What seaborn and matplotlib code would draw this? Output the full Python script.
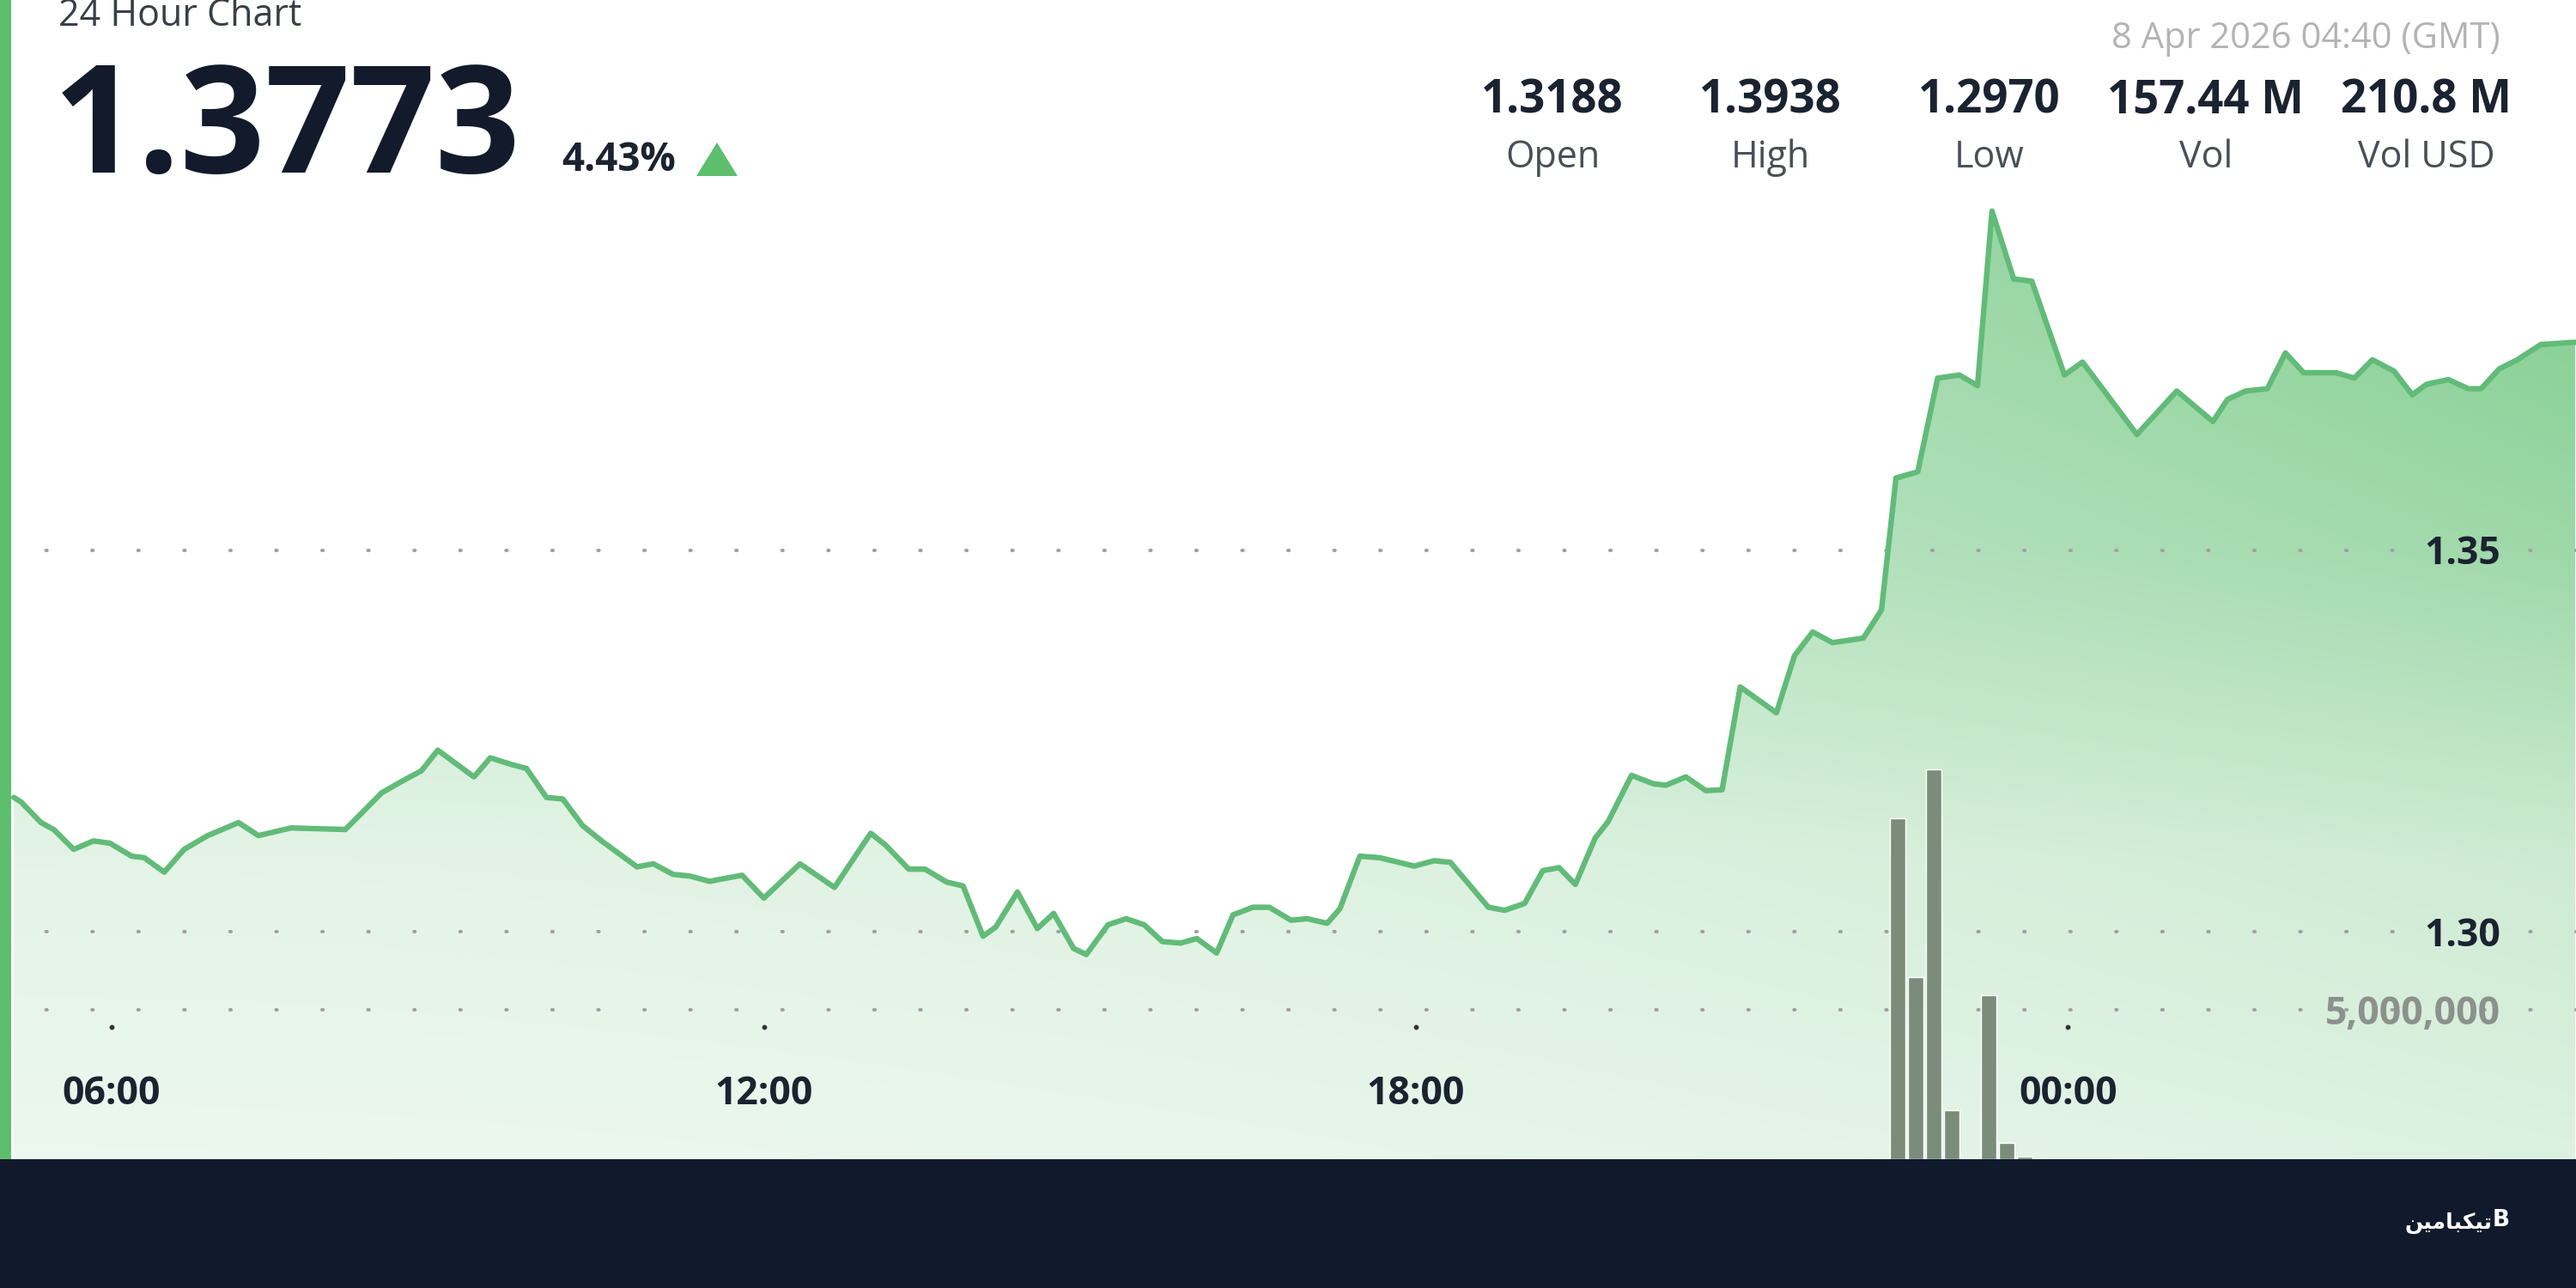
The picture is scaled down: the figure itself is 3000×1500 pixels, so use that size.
import numpy as np
import pandas as pd
import matplotlib
matplotlib.use("Agg")
import matplotlib.pyplot as plt
import matplotlib.dates as mdates
import matplotlib.transforms as mtransforms
from matplotlib.patches import Rectangle, Polygon
import seaborn as sns

# price line, 7 Apr -> 8 Apr 2026 (GMT)
priceTimes = [
    "05:06", "05:10", "05:21", "05:28", "05:39", "05:50", "05:59", "06:11", "06:18", "06:29",
    "06:40", "06:53", "07:10", "07:21", "07:39", "08:09", "08:29", "08:40", "08:51", "09:00",
    "09:20", "09:29", "09:41", "09:49", "10:00", "10:09", "10:20", "10:31", "10:50", "10:59",
    "11:10", "11:19", "11:30", "11:48", "12:00", "12:20", "12:39", "12:53", "12:59", "13:07",
    "13:20", "13:29", "13:41", "13:50", "14:01", "14:08", "14:20", "14:31", "14:40", "14:51",
    "14:58", "15:10", "15:20", "15:30", "15:40", "15:50", "15:59", "16:10", "16:19", "16:30",
    "16:39", "16:51", "17:00", "17:11", "17:18", "17:29", "17:40", "17:59", "18:10", "18:19",
    "18:40", "18:49", "19:00", "19:10", "19:19", "19:28", "19:39", "19:46", "19:59", "20:11",
    "20:18", "20:29", "20:40", "20:49", "20:59", "21:19", "21:29", "21:39", "21:50", "22:07",
    "22:17", "22:25", "22:37", "22:48", "23:00", "23:10", "23:18", "23:30", "23:40", "23:58",
    "00:08", "00:38", "01:00", "01:20", "01:28", "01:38", "01:50", "02:00", "02:10", "02:28",
    "02:38", "02:48", "03:00", "03:10", "03:18", "03:30", "03:41", "03:48", "03:58", "04:08",
    "04:21", "04:40",
]
prices = [
    1.3176, 1.3170, 1.3143, 1.3134, 1.3108, 1.3119, 1.3116, 1.3099, 1.3097, 1.3078,
    1.3108, 1.3126, 1.3143, 1.3126, 1.3136, 1.3134, 1.3182, 1.3197, 1.3211, 1.3238,
    1.3203, 1.3228, 1.3219, 1.3214, 1.3176, 1.3174, 1.3139, 1.3118, 1.3085, 1.3089,
    1.3075, 1.3073, 1.3066, 1.3074, 1.3044, 1.3089, 1.3058, 1.3108, 1.3129, 1.3114,
    1.3082, 1.3082, 1.3065, 1.3060, 1.2994, 1.3006, 1.3052, 1.3004, 1.3024, 1.2978,
    1.2970, 1.3009, 1.3017, 1.3009, 1.2987, 1.2985, 1.2991, 1.2972, 1.3022, 1.3032,
    1.3032, 1.3015, 1.3017, 1.3011, 1.3030, 1.3099, 1.3097, 1.3086, 1.3093, 1.3091,
    1.3032, 1.3028, 1.3037, 1.3080, 1.3084, 1.3062, 1.3123, 1.3144, 1.3205, 1.3194,
    1.3192, 1.3203, 1.3185, 1.3186, 1.3321, 1.3287, 1.3362, 1.3393, 1.3379, 1.3385,
    1.3422, 1.3595, 1.3603, 1.3726, 1.3730, 1.3716, 1.3945, 1.3856, 1.3853, 1.3730,
    1.3747, 1.3652, 1.3709, 1.3669, 1.3698, 1.3709, 1.3712, 1.3759, 1.3733, 1.3733,
    1.3726, 1.3750, 1.3735, 1.3704, 1.3718, 1.3724, 1.3712, 1.3712, 1.3738, 1.3750,
    1.3770, 1.3773,
]

# volume bars (10 minute buckets)
volumeTimes = ["22:26", "22:36", "22:46", "22:56", "23:16", "23:26", "23:36"]
volumes = [11.4e6, 6.1e6, 13.05e6, 1.65e6, 5.5e6, 0.55e6, 0.1e6]

# header texts
chartTitle = "24 Hour Chart"
lastPrice = "1.3773"
changePct = "4.43%"
updatedAt = "8 Apr 2026 04:40 (GMT)"
statValues = ["1.3188", "1.3938", "1.2970", "157.44 M", "210.8 M"]
statLabels = ["Open", "High", "Low", "Vol", "Vol USD"]

# axis labels
priceTicks = [1.35, 1.30]
volumeTicks = [5_000_000]
timeTicks = ["06:00", "12:00", "18:00", "00:00"]
timeTickDays = ["2026-04-07", "2026-04-07", "2026-04-07", "2026-04-08"]

logoText = "تیکبامین"

GREEN = "#5dbe6e"
LINE = "#62bb78"
NAVY = "#111a2c"
INK = "#1b2230"


def toStamps(hhmm, startDay="2026-04-07"):
    out = []
    day = pd.Timestamp(startDay)
    prev = None
    for s in hhmm:
        t = pd.Timestamp(f"{day.date()} {s}")
        if prev is not None and t < prev:
            day += pd.Timedelta(days=1)
            t += pd.Timedelta(days=1)
        out.append(t)
        prev = t
    return out


def shapePersian(word):
    # tiny contextual shaper for the logo letters (isolated, final, initial, medial)
    forms = {
        "ت": "\uFE95\uFE96\uFE97\uFE98",
        "ی": "\uFBFC\uFBFD\uFBFE\uFBFF",
        "ک": "\uFB8E\uFB8F\uFB90\uFB91",
        "ب": "\uFE8F\uFE90\uFE91\uFE92",
        "ا": "\uFE8D\uFE8E\uFE8D\uFE8E",
        "م": "\uFEE1\uFEE2\uFEE3\uFEE4",
        "ن": "\uFEE5\uFEE6\uFEE7\uFEE8",
    }
    noJoinAfter = {"ا"}
    out = []
    for i, ch in enumerate(word):
        joinPrev = i > 0 and word[i - 1] not in noJoinAfter
        joinNext = i < len(word) - 1 and ch not in noJoinAfter
        idx = 3 if (joinPrev and joinNext) else 2 if joinNext else 1 if joinPrev else 0
        out.append(forms[ch][idx])
    return "".join(reversed(out))


def drawChart():
    sns.set_theme(style="white")
    plt.rcParams["font.family"] = ["Open Sans", "DejaVu Sans"]

    stamps = toStamps(priceTimes)
    volStamps = toStamps(volumeTimes)
    df = pd.DataFrame({"time": stamps, "price": prices})

    fig = plt.figure(figsize=(30, 15), dpi=100)
    fig.patch.set_facecolor("white")
    ax = fig.add_axes([0, 0.1, 1, 0.9])
    ax.set_facecolor("white")

    xlo = pd.Timestamp("2026-04-07 04:58:20")
    xhi = pd.Timestamp("2026-04-08 04:40:24")
    ylo, yhi = 1.27016, 1.42218

    # gradient fill under the line
    poly = ax.fill_between(df["time"], df["price"], ylo, facecolor="none", edgecolor="none")
    ny, nx = 400, 400
    yy = np.linspace(0, 1350, ny)[:, None]  # pixel rows from top of plot
    xx = np.linspace(0, 1, nx)[None, :]
    v = np.interp(yy, [0, 250, 640, 1000, 1350], [0.82, 0.78, 0.60, 0.31, 0.21])
    h = 0.55 + 0.45 * xx ** 2
    alpha = v * h
    rgba = np.zeros((ny, nx, 4))
    rgba[..., 0] = 92 / 255
    rgba[..., 1] = 190 / 255
    rgba[..., 2] = 110 / 255
    rgba[..., 3] = alpha
    img = ax.imshow(
        rgba,
        extent=[mdates.date2num(xlo), mdates.date2num(xhi), ylo, yhi],
        aspect="auto",
        origin="upper",
        zorder=1,
        interpolation="bilinear",
    )
    img.set_clip_path(poly.get_paths()[0], transform=ax.transData)

    sns.lineplot(data=df, x="time", y="price", ax=ax, color=LINE, linewidth=4.6, zorder=3)

    dotStyle = dict(color="#a0a0a0", linewidth=2.9, linestyle=(0, (0.3, 13)),
                    dash_capstyle="round", zorder=2)
    for p in priceTicks:
        ax.axhline(p, **dotStyle)

    ax.set_xlim(xlo, xhi)
    ax.set_ylim(ylo, yhi)
    ax.set_xlabel("")
    ax.set_ylabel("")
    ax.set_xticks([])
    ax.set_yticks([])
    for s in ax.spines.values():
        s.set_visible(False)

    # volume on a twin axis
    ax2 = ax.twinx()
    ax2.bar(volStamps, volumes, width=8.5 / 1440, color="#7b8c7a", align="center", zorder=4)
    for vt in volumeTicks:
        ax2.axhline(vt, **dotStyle)
    ax2.set_ylim(0, 38.8e6)
    ax2.set_xlim(xlo, xhi)
    ax2.set_yticks([])
    ax2.set_xticks([])
    for s in ax2.spines.values():
        s.set_visible(False)

    # axis labels drawn inside the plot (small shift down to sit on the gridlines)
    nudge = mtransforms.ScaledTranslation(0, -5 / 100, fig.dpi_scale_trans)
    yTrans = mtransforms.blended_transform_factory(ax.transAxes, ax.transData) + nudge
    for p in priceTicks:
        ax.text(0.9707, p, f"{p:.2f}", transform=yTrans, ha="right", va="center",
                fontsize=32, fontweight="bold", color=INK, zorder=6)
    vTrans = mtransforms.blended_transform_factory(ax2.transAxes, ax2.transData) + nudge
    for vt in volumeTicks:
        ax2.text(0.9707, vt, f"{vt:,}", transform=vTrans, ha="right", va="center",
                 fontsize=32, fontweight="bold", color="#8c918c", zorder=6)
    xTrans = mtransforms.blended_transform_factory(ax2.transData, ax2.transAxes)
    tickStamps = [pd.Timestamp(f"{d} {t}") for d, t in zip(timeTickDays, timeTicks)]
    for ts, lab in zip(tickStamps, timeTicks):
        ax2.text(ts, 0.0593, lab, transform=xTrans + nudge, ha="center", va="center",
                 fontsize=32, fontweight="bold", color=INK, zorder=6)
    ax2.scatter(tickStamps, [0.114] * len(tickStamps), transform=xTrans, s=10,
                color="#333333", zorder=6, clip_on=False)

    # header
    fig.text(68 / 3000, 1 - 30 / 1500, chartTitle, fontsize=31, color="#3a3f47", va="baseline")
    fig.text(62 / 3000, 1 - 201 / 1500, lastPrice, fontsize=125, fontweight="bold",
             color="#121a2b", va="baseline")
    fig.text(654 / 3000, 1 - 199 / 1500, changePct, fontsize=33, fontweight="bold",
             color=INK, va="baseline")
    fig.patches.append(Polygon([[811 / 3000, 1 - 205 / 1500], [859 / 3000, 1 - 205 / 1500],
                                [835 / 3000, 1 - 166 / 1500]], closed=True,
                               transform=fig.transFigure, facecolor=GREEN, edgecolor="none"))
    fig.text(2912 / 3000, 1 - 45 / 1500, updatedAt, fontsize=30, color="#b3b3b3",
             ha="right", va="center")
    statX = [1808, 2062, 2317, 2569, 2826]
    for x, val, lab in zip(statX, statValues, statLabels):
        fig.text(x / 3000, 1 - 117 / 1500, val, fontsize=38, fontweight="bold", color=INK,
                 ha="center", va="center")
        fig.text(x / 3000, 1 - 184 / 1500, lab, fontsize=31, color="#4a4f55",
                 ha="center", va="center")

    # left accent bar and bottom banner
    fig.patches.append(Rectangle((0, 0.1), 13 / 3000, 0.9, transform=fig.transFigure,
                                 facecolor=GREEN, edgecolor="none", zorder=10))
    fig.patches.append(Rectangle((0, 0), 1, 0.1, transform=fig.transFigure,
                                 facecolor=NAVY, edgecolor="none", zorder=10))
    fig.text(2902 / 3000, 1 - 1424 / 1500, shapePersian(logoText), fontsize=18,
             fontweight="bold", color="white", ha="right", va="center",
             family=["DejaVu Sans"], zorder=11)
    fig.text(2913 / 3000, 1 - 1421 / 1500, "B", fontsize=19, fontweight="bold",
             color="white", ha="center", va="center", family=["DejaVu Sans"], zorder=11)

    fig.savefig("out.png", dpi=100, facecolor="white")
    plt.close(fig)


if __name__ == "__main__":
    drawChart()
